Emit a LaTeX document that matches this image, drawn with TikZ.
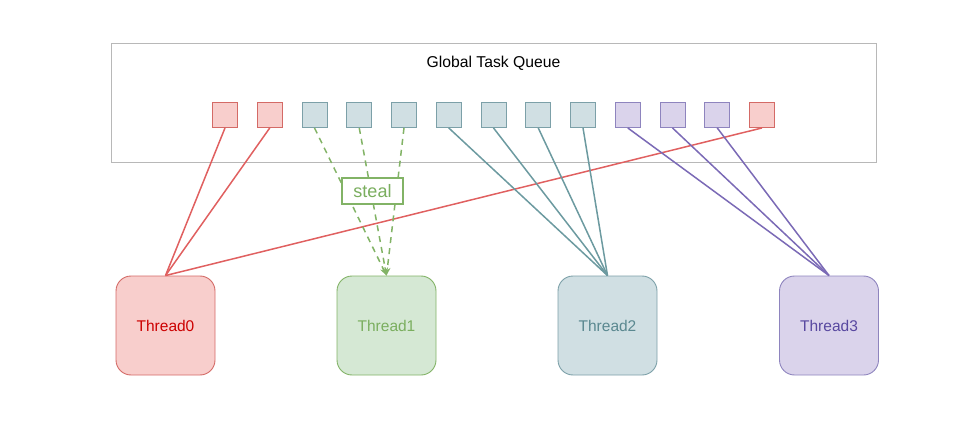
\documentclass[tikz,border=0pt]{standalone}
\usepackage{fontspec}
\setmainfont{Liberation Sans}
\usetikzlibrary{arrows.meta}
\definecolor{redfill}{HTML}{F8CECC}
\definecolor{redstroke}{HTML}{D46A66}
\definecolor{redline}{HTML}{E06060}
\definecolor{redtext}{HTML}{CC0000}
\definecolor{tealfill}{HTML}{D0DFE3}
\definecolor{tealstroke}{HTML}{7CA0A8}
\definecolor{tealline}{HTML}{6C9AA0}
\definecolor{tealtext}{HTML}{5A8890}
\definecolor{purpfill}{HTML}{DAD3EB}
\definecolor{purpstroke}{HTML}{8E84BE}
\definecolor{purpline}{HTML}{7B6AB6}
\definecolor{purptext}{HTML}{5848A0}
\definecolor{greenfill}{HTML}{D5E8D4}
\definecolor{greenstroke}{HTML}{82B366}
\definecolor{greentext}{HTML}{7AAE5E}
\begin{document}
\begin{tikzpicture}[x=1pt,y=-1pt,
  task/.style={draw, line width=0.9pt, minimum width=25pt, minimum height=25pt, inner sep=0pt},
  redtask/.style={task, fill=redfill, draw=redstroke},
  tealtask/.style={task, fill=tealfill, draw=tealstroke},
  purptask/.style={task, fill=purpfill, draw=purpstroke},
  thread/.style={draw, line width=0.9pt, rounded corners=15pt, minimum width=99pt, minimum height=99pt, inner sep=0pt, font=\fontsize{15.5}{18}\selectfont},
  conn/.style={line width=1.5pt},
]
\useasboundingbox (0,0) rectangle (976,430);
\node[draw=black!28, line width=0.9pt, minimum width=765pt, minimum height=119pt, inner sep=0pt] (queue) at (493.5,102.5) {};
\node[font=\fontsize{15.7}{18}\selectfont] (title) at (493.5,63) {Global Task Queue};
\node[redtask]  (q1)  at (225,115) {};
\node[redtask]  (q2)  at (269.75,115) {};
\node[tealtask] (q3)  at (314.5,115) {};
\node[tealtask] (q4)  at (359.25,115) {};
\node[tealtask] (q5)  at (404,115) {};
\node[tealtask] (q6)  at (448.75,115) {};
\node[tealtask] (q7)  at (493.5,115) {};
\node[tealtask] (q8)  at (538.25,115) {};
\node[tealtask] (q9)  at (583,115) {};
\node[purptask] (q10) at (627.75,115) {};
\node[purptask] (q11) at (672.5,115) {};
\node[purptask] (q12) at (717.25,115) {};
\node[redtask]  (q13) at (762,115) {};

\node[thread, fill=redfill, draw=redstroke, text=redtext] (t0) at (165.5,325.5) {Thread0};
\node[thread, fill=greenfill, draw=greenstroke, text=greentext] (t1) at (386.5,325.5) {Thread1};
\node[thread, fill=tealfill, draw=tealstroke, text=tealtext] (t2) at (607.5,325.5) {Thread2};
\node[thread, fill=purpfill, draw=purpstroke, text=purptext] (t3) at (829,325.5) {Thread3};

\foreach \q in {q1,q2,q13} \draw[conn, redline] (\q.south) -- (t0.north);
\foreach \q in {q6,q7,q8,q9} \draw[conn, tealline] (\q.south) -- (t2.north);
\foreach \q in {q10,q11,q12} \draw[conn, purpline] (\q.south) -- (t3.north);
\foreach \q in {q3,q4,q5} \draw[conn, greenstroke, dash pattern=on 6pt off 5pt, -{Stealth[length=8pt,width=6pt]}] (\q.south) -- (t1.north);

\node[draw=greenstroke, fill=white, line width=1.3pt, text=greentext, minimum width=61pt, minimum height=26pt, inner sep=0pt, font=\fontsize{18}{20}\selectfont] (steal) at (372.5,191) {steal};
\end{tikzpicture}
\end{document}
